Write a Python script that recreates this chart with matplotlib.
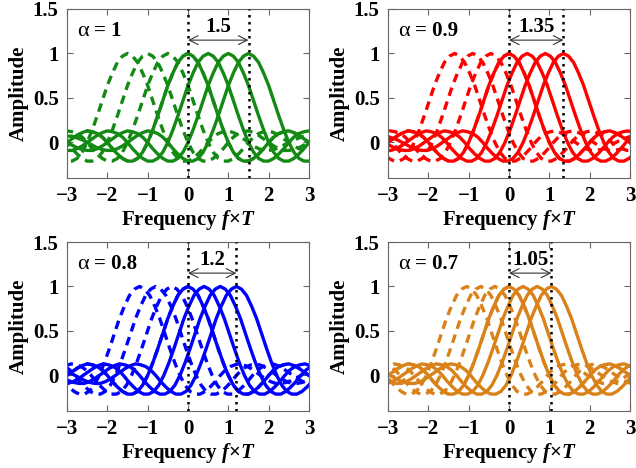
import matplotlib
matplotlib.use("Agg")
import matplotlib.pyplot as plt
import numpy as np

plt.rcParams["font.family"] = ["Liberation Serif", "DejaVu Serif"]
plt.rcParams["font.weight"] = "bold"
plt.rcParams["mathtext.fontset"] = "custom"
plt.rcParams["mathtext.it"] = "Liberation Serif:italic:bold"
plt.rcParams["mathtext.rm"] = "Liberation Serif:bold"

# pulse shape: amplitude vs offset from the peak (one side)
pulse_offset = [0.0, 0.125, 0.25, 0.375, 0.5, 0.625, 0.75, 0.875, 1.0,
                1.125, 1.25, 1.375, 1.5, 1.625, 1.75, 1.875, 2.0,
                2.125, 2.25, 2.375, 2.5, 2.625, 2.75, 2.875, 3.0,
                3.125, 3.25, 3.375, 3.5, 3.625, 3.75, 3.875, 4.0,
                4.125, 4.25, 4.375, 4.5]
pulse_amp = [1.0, 0.97, 0.9, 0.78, 0.64, 0.47, 0.3, 0.14, 0.0,
             -0.11, -0.18, -0.21, -0.21, -0.18, -0.13, -0.07, 0.0,
             0.06, 0.1, 0.12, 0.13, 0.11, 0.08, 0.04, 0.0,
             -0.04, -0.07, -0.09, -0.09, -0.08, -0.06, -0.03, 0.0,
             0.03, 0.05, 0.07, 0.07]

alphas = ["1", "0.9", "0.8", "0.7"]
spans = ["1.5", "1.35", "1.2", "1.05"]
solid_centers = [
    [0.0, 0.5, 1.0, 1.5],
    [0.0, 0.45, 0.9, 1.35],
    [0.0, 0.4, 0.8, 1.2],
    [0.0, 0.35, 0.7, 1.05],
]
dashed_centers = [
    [-1.5, -1.0, -0.5, 0.0],
    [-1.35, -0.9, -0.45, 0.0],
    [-1.2, -0.8, -0.4, 0.0],
    [-1.05, -0.7, -0.35, 0.0],
]
colors = ["#138a13", "#ff0000", "#0000ff", "#d9821a"]

# full symmetric template
off = np.array(pulse_offset)
amp = np.array(pulse_amp)
tpl_x = np.concatenate([-off[:0:-1], off])
tpl_y = np.concatenate([amp[:0:-1], amp])

W, H = 636, 468
fig = plt.figure(figsize=(W / 100, H / 100), dpi=100)
boxes = [(67, 9), (388, 9), (67, 242), (388, 242)]
aw, ah = 242, 169

for i in range(4):
    x0, y0 = boxes[i]
    ax = fig.add_axes([x0 / W, 1 - (y0 + ah) / H, aw / W, ah / H])
    c = colors[i]
    for cen in dashed_centers[i]:
        ax.plot(tpl_x + cen, tpl_y, color=c, lw=2.4, ls=(0, (2.6, 1.8)))
    for cen in solid_centers[i]:
        ax.plot(tpl_x + cen, tpl_y, color=c, lw=2.4)
    span = solid_centers[i][-1]
    for xv in (0, span):
        ax.axvline(xv, color="black", lw=1.8, ls=(0, (1, 1.8)), zorder=5)
    ax.annotate("", xy=(0, 1.15), xytext=(span, 1.15),
                arrowprops=dict(arrowstyle="<->", color="#333333", lw=0.8,
                                mutation_scale=16, shrinkA=0, shrinkB=0))
    ax.text(span / 2, 1.3, spans[i], ha="center", va="center", fontsize=15,
            fontweight="bold")
    ax.text(-2.75, 1.25, "α", ha="left", va="center",
            fontsize=16, fontweight="normal")
    ax.text(-2.33, 1.25, "= " + alphas[i], ha="left", va="center", fontsize=15,
            fontweight="bold")

    ax.set_xlim(-3, 3)
    ax.set_ylim(-0.4, 1.5)
    ax.set_xticks([-3, -2, -1, 0, 1, 2, 3])
    ax.set_yticks([0, 0.5, 1, 1.5])
    ax.set_yticklabels(["0", "0.5", "1", "1.5"])
    ax.tick_params(direction="in", top=True, right=True, labelsize=15,
                   length=4, color="#666666", pad=6)
    for sp in ax.spines.values():
        sp.set_color("#666666")
        sp.set_linewidth(0.8)
    ax.set_xlabel(r"Frequency $f$×$T$", fontsize=15, fontweight="bold", labelpad=1)
    ax.set_ylabel("Amplitude", fontsize=15, fontweight="bold", labelpad=3)

fig.savefig("out.png", dpi=100)
